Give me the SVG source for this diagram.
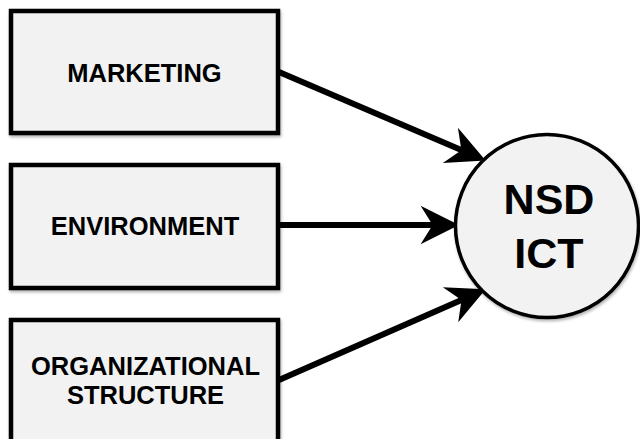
<svg xmlns="http://www.w3.org/2000/svg" width="640" height="439" viewBox="0 0 640 439">
<style>
.box{fill:#f2f2f2;stroke:#000;stroke-width:4.5}
.lbl{font-family:"Liberation Sans",Arial,sans-serif;font-weight:bold;font-size:25.5px;fill:#000;text-anchor:middle}
.big{font-family:"Liberation Sans",Arial,sans-serif;font-weight:bold;font-size:43px;fill:#000;text-anchor:middle}
.conn{stroke:#000;stroke-width:6;fill:none;marker-end:url(#ah)}
</style>
<defs>
<marker id="ah" markerUnits="userSpaceOnUse" markerWidth="60" markerHeight="60" refX="0" refY="0" viewBox="-20 -20 50 40" orient="auto" overflow="visible">
<path d="M20,0 L-12,-16 L-2,0 L-12,16 Z" fill="#000"/>
</marker>
<filter id="sh" x="-5%" y="-5%" width="115%" height="120%">
<feDropShadow dx="1" dy="2" stdDeviation="1.5" flood-color="#000" flood-opacity="0.3"/>
</filter>
</defs>
<rect width="640" height="439" fill="#fff"/>
<g id="connectors">
<path class="conn" d="M279,72 L463.6,151.1"/>
<path class="conn" d="M279,225 L435,225"/>
<path class="conn" d="M279,380 L463.7,299"/>
</g>
<g id="marketing">
<rect class="box" x="11" y="11" width="267" height="122" filter="url(#sh)"/>
<text class="lbl" x="144.5" y="82">MARKETING</text>
</g>
<g id="environment">
<rect class="box" x="11" y="165" width="267" height="123" filter="url(#sh)"/>
<text class="lbl" x="145" y="235">ENVIRONMENT</text>
</g>
<g id="organizational-structure">
<rect class="box" x="11" y="320" width="267" height="135" filter="url(#sh)"/>
<text class="lbl" x="145.5" y="375">ORGANIZATIONAL</text>
<text class="lbl" x="145.5" y="404">STRUCTURE</text>
</g>
<g id="nsd-ict">
<circle cx="547" cy="226" r="91.5" fill="#f2f2f2" stroke="#000" stroke-width="3.5" filter="url(#sh)"/>
<text class="big" x="549" y="214">NSD</text>
<text class="big" x="549" y="268">ICT</text>
</g>
</svg>
